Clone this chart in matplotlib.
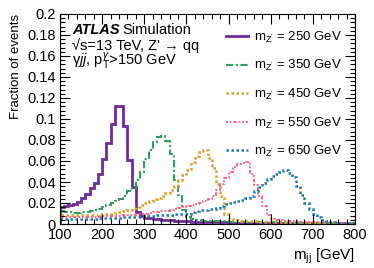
import numpy as np
import matplotlib
matplotlib.use("Agg")
import matplotlib.pyplot as plt
from matplotlib.ticker import MultipleLocator
from matplotlib.lines import Line2D

plt.rcParams['font.family'] = ['Liberation Sans', 'DejaVu Sans']
plt.rcParams['mathtext.fontset'] = 'custom'
plt.rcParams['mathtext.rm'] = 'Liberation Sans'
plt.rcParams['mathtext.it'] = 'Liberation Sans:italic'
plt.rcParams['mathtext.bf'] = 'Liberation Sans:bold'

bin_edges = list(range(100, 801, 10))

frac_250 = [0.0165, 0.017, 0.018, 0.0195, 0.021, 0.0245, 0.029, 0.034, 0.039, 0.048,
            0.062, 0.0775, 0.095, 0.112, 0.112, 0.093, 0.061, 0.035, 0.0117, 0.008,
            0.006, 0.0055, 0.005, 0.0045, 0.004, 0.0037, 0.0034, 0.0031, 0.0028, 0.0026,
            0.0024, 0.0022, 0.0021, 0.002, 0.0019, 0.0018, 0.0017, 0.0016, 0.0015, 0.0015,
            0.0014, 0.0013, 0.0013, 0.0012, 0.0012, 0.0011, 0.0011, 0.001, 0.001, 0.001,
            0.0009, 0.0009, 0.0009, 0.0009, 0.0009, 0.0009, 0.0009, 0.0009, 0.0009, 0.0009,
            0.0008, 0.0008, 0.0008, 0.0008, 0.0008, 0.0008, 0.0008, 0.0008, 0.0008, 0.0008]

frac_350 = [0.012, 0.0115, 0.011, 0.0105, 0.0105, 0.011, 0.0115, 0.012, 0.013, 0.014,
            0.016, 0.018, 0.020, 0.022, 0.024, 0.027, 0.031, 0.034, 0.042, 0.050,
            0.062, 0.070, 0.078, 0.083, 0.084, 0.079, 0.067, 0.042, 0.028, 0.013,
            0.007, 0.005, 0.004, 0.0035, 0.003, 0.003, 0.0028, 0.0026, 0.0025, 0.0024,
            0.0023, 0.0022, 0.0021, 0.002, 0.002, 0.0019, 0.0018, 0.0018, 0.0017, 0.0016,
            0.0016, 0.0015, 0.0015, 0.0014, 0.0014, 0.0013, 0.0013, 0.0012, 0.0012, 0.0012,
            0.0011, 0.0011, 0.0011, 0.001, 0.001, 0.001, 0.001, 0.0009, 0.0009, 0.0009]

frac_450 = [0.009, 0.0088, 0.0086, 0.0085, 0.0085, 0.0085, 0.0087, 0.009, 0.009, 0.0092,
            0.0095, 0.0098, 0.010, 0.0105, 0.011, 0.012, 0.013, 0.015, 0.016, 0.018,
            0.020, 0.022, 0.024, 0.025, 0.027, 0.030, 0.032, 0.036, 0.042, 0.047,
            0.051, 0.059, 0.065, 0.069, 0.070, 0.063, 0.053, 0.038, 0.027, 0.010,
            0.005, 0.004, 0.0035, 0.003, 0.0028, 0.0026, 0.0025, 0.0023, 0.0022, 0.002,
            0.002, 0.0019, 0.0018, 0.0018, 0.0017, 0.0016, 0.0016, 0.0015, 0.0015, 0.0014,
            0.0014, 0.0013, 0.0013, 0.0013, 0.0012, 0.0012, 0.0012, 0.0011, 0.0011, 0.0011]

frac_550 = [0.0065, 0.0063, 0.0062, 0.0062, 0.0063, 0.0064, 0.0065, 0.0066, 0.0068, 0.007,
            0.0072, 0.0074, 0.0076, 0.0078, 0.008, 0.0083, 0.0086, 0.009, 0.0093, 0.0097,
            0.010, 0.0105, 0.011, 0.0115, 0.012, 0.0125, 0.013, 0.014, 0.015, 0.016,
            0.017, 0.018, 0.019, 0.020, 0.022, 0.024, 0.027, 0.032, 0.038, 0.044,
            0.050, 0.054, 0.057, 0.058, 0.059, 0.048, 0.037, 0.027, 0.017, 0.009,
            0.005, 0.004, 0.0035, 0.003, 0.0028, 0.0026, 0.0024, 0.0022, 0.002, 0.0019,
            0.0018, 0.0017, 0.0016, 0.0015, 0.0015, 0.0014, 0.0014, 0.0013, 0.0013, 0.0012]

frac_650 = [0.005, 0.0049, 0.0048, 0.0048, 0.0049, 0.005, 0.005, 0.0051, 0.0052, 0.0053,
            0.0054, 0.0055, 0.0057, 0.0058, 0.006, 0.0062, 0.0064, 0.0066, 0.0068, 0.007,
            0.0073, 0.0076, 0.0079, 0.0082, 0.0085, 0.0088, 0.009, 0.0093, 0.0095, 0.0098,
            0.010, 0.011, 0.012, 0.013, 0.013, 0.014, 0.014, 0.015, 0.017, 0.019,
            0.020, 0.021, 0.022, 0.023, 0.025, 0.027, 0.031, 0.035, 0.039, 0.043,
            0.046, 0.048, 0.050, 0.051, 0.049, 0.045, 0.036, 0.028, 0.020, 0.014,
            0.010, 0.0065, 0.004, 0.003, 0.002, 0.0016, 0.0013, 0.0011, 0.001, 0.001]

labels = [r"m$_{\mathrm{Z'}}$ = 250 GeV", r"m$_{\mathrm{Z'}}$ = 350 GeV",
          r"m$_{\mathrm{Z'}}$ = 450 GeV", r"m$_{\mathrm{Z'}}$ = 550 GeV",
          r"m$_{\mathrm{Z'}}$ = 650 GeV"]

series = [frac_250, frac_350, frac_450, frac_550, frac_650]
colors = ['#6f2c9b', '#2e9e5c', '#d9a030', '#f0607e', '#1f78b0']
styles = [dict(ls='-', lw=2.0),
          dict(ls=(0, (3.5, 1.2, 1, 1.2)), lw=1.5),
          dict(ls=(0, (1, 1)), lw=1.8),
          dict(ls=(0, (1, 1, 1, 1, 2, 1)), lw=1.3),
          dict(ls=(0, (1, 1)), lw=1.8)]

fig = plt.figure(figsize=(3.74, 2.68), dpi=100)
ax = fig.add_axes([60/374, 1 - 224/268, 295/374, 210/268])

handles = []
for vals, c, st, lab in zip(series, colors, styles, labels):
    ax.stairs(vals, bin_edges, color=c, **st)
    handles.append(Line2D([], [], color=c, **st, label=lab))

ax.set_xlim(100, 800)
ax.set_ylim(0, 0.2)
ax.xaxis.set_major_locator(MultipleLocator(100))
ax.xaxis.set_minor_locator(MultipleLocator(20))
ax.yaxis.set_minor_locator(MultipleLocator(0.004))
ax.tick_params(which='both', direction='in', top=True, right=True, labelsize=10.5, pad=3)
ax.tick_params(which='major', length=7, width=0.8)
ax.tick_params(which='minor', length=3.5, width=0.8)
yt = [0, 0.02, 0.04, 0.06, 0.08, 0.1, 0.12, 0.14, 0.16, 0.18, 0.2]
ax.set_yticks(yt)
ax.set_yticklabels(['0', '0.02', '0.04', '0.06', '0.08', '0.1', '0.12', '0.14', '0.16', '0.18', '0.2'])

ax.set_ylabel('Fraction of events', fontsize=9.5, loc='top', labelpad=4)
ax.set_xlabel(r"m$_{\mathrm{jj}}$ [GeV]", fontsize=11, loc='right', labelpad=3)

fig.text(72/374, 1 - 34/268, 'ATLAS', fontsize=10.5, fontweight='bold', fontstyle='italic', va='baseline')
fig.text(122/374, 1 - 34/268, 'Simulation', fontsize=10.5, va='baseline')
fig.text(72/374, 1 - 50/268, "√s=13 TeV, Z' → qq", fontsize=10.5, va='baseline')
fig.text(72/374, 1 - 66/268, r"γ$jj$, p$_{\mathrm{T}}^{\gamma}$>150 GeV", fontsize=10.5, va='baseline')

leg = ax.legend(handles=handles, loc='upper right', bbox_to_anchor=(0.975, 0.95),
                frameon=False, fontsize=9.5, handlelength=1.7, handletextpad=0.45,
                labelspacing=1.02, borderaxespad=0.0)

fig.savefig('out.png', dpi=100)
